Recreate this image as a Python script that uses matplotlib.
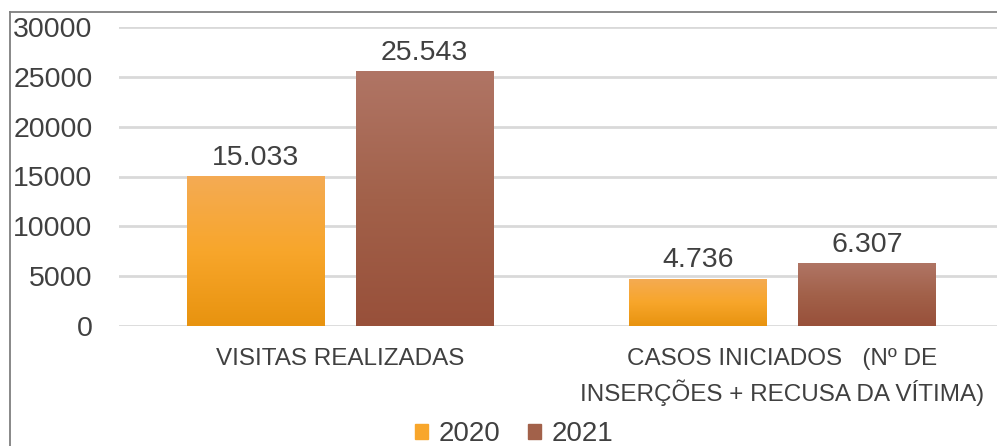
import numpy as np
import matplotlib.pyplot as plt
from matplotlib.colors import LinearSegmentedColormap
from matplotlib.lines import Line2D
from matplotlib.patches import Patch

# data
categories = ['VISITAS REALIZADAS',
              'CASOS INICIADOS   (Nº DE\nINSERÇÕES + RECUSA DA VÍTIMA)']
years = ['2020', '2021']
values_2020 = [15033, 4736]
values_2021 = [25543, 6307]
labels_2020 = ['15.033', '4.736']
labels_2021 = ['25.543', '6.307']
yticks = [0, 5000, 10000, 15000, 20000, 25000, 30000]

# colors (top, middle, bottom of gradient)
orange = ['#f4ab54', '#f8a62b', '#e8930f']
brown = ['#b07565', '#a2614a', '#98503a']
text_color = '#404040'

plt.rcParams['font.family'] = ['Liberation Sans', 'DejaVu Sans']

fig = plt.figure(figsize=(9.97, 4.46), dpi=100)
ax = fig.add_axes([119 / 997, 1 - 326 / 446, 2 * 442.2 / 997, 299 / 446])

x = np.arange(len(categories))
w = 0.311
off = 0.191
bars1 = ax.bar(x - off, values_2020, w, color=orange[1], zorder=2)
bars2 = ax.bar(x + off, values_2021, w, color=brown[1], zorder=2)

# vertical gradient fill, clipped to each bar
grad = np.linspace(0, 1, 256).reshape(-1, 1)
for bars, cols in [(bars1, orange), (bars2, brown)]:
    cmap = LinearSegmentedColormap.from_list('g', cols[::-1])
    for b in bars:
        x0, y0 = b.get_x(), b.get_y()
        im = ax.imshow(grad, cmap=cmap, aspect='auto', origin='lower',
                       extent=[x0, x0 + b.get_width(), y0, y0 + b.get_height()],
                       zorder=3)
        im.set_clip_path(b)

ax.bar_label(bars1, labels=labels_2020, padding=4, fontsize=20.5, color=text_color)
ax.bar_label(bars2, labels=labels_2021, padding=4, fontsize=20.5, color=text_color)

ax.set_xlim(-0.5, 1.5)
ax.set_ylim(0, 30000)
ax.set_yticks(yticks)
ax.set_yticklabels([str(v) for v in yticks])
ax.grid(axis='y', color='#d9d9d9', linewidth=2, zorder=0)
ax.set_axisbelow(True)
for s in ax.spines.values():
    s.set_visible(False)
ax.tick_params(axis='y', length=0, pad=19, labelsize=20.5, labelcolor=text_color)
ax.tick_params(axis='x', length=0, pad=16, labelsize=17.5, labelcolor=text_color)
ax.set_xticks(x)
ax.set_xticklabels(categories, linespacing=1.45)

handles = [Patch(color=orange[1], label=years[0]),
           Patch(color=brown[1], label=years[1])]
fig.legend(handles=handles, loc='center', bbox_to_anchor=(0.5 + 16 / 997, 12 / 446),
           ncol=2, frameon=False, fontsize=20, labelcolor=text_color,
           handlelength=0.45, handleheight=0.45, handletextpad=0.4,
           columnspacing=1.0)

# chart border (cropped on right and bottom)
bx, by = 10 / 997, 1 - 12 / 446
fig.add_artist(Line2D([bx, bx], [0, by], color='#7f7f7f', lw=1.3))
fig.add_artist(Line2D([bx, 1], [by, by], color='#7f7f7f', lw=1.3))

plt.savefig('out.png', dpi=100)
